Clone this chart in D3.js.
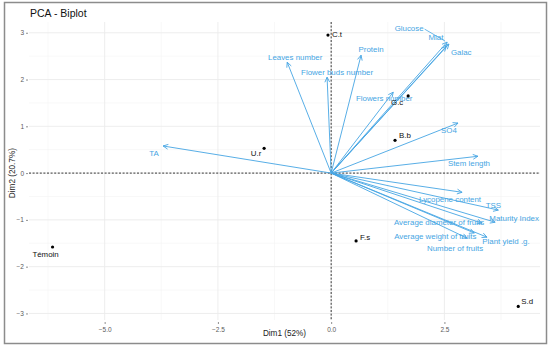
<!DOCTYPE html>
<html><head><meta charset="utf-8">
<script src="https://cdn.jsdelivr.net/npm/d3@7"></script>
<style>body{margin:0;background:#fff}svg{display:block;font-family:"Liberation Sans",Arial,sans-serif}</style>
</head><body><svg id="c" width="550" height="349"></svg>
<script>
// ---- data ----
const indNames = ["C.t","G.c","B.b","U.r","F.s","S.d","Témoin"];
const indDim1  = [-0.07, 1.70, 1.41, -1.48, 0.55, 4.13, -6.15];
const indDim2  = [2.95, 1.65, 0.70, 0.53, -1.45, -2.85, -1.58];

const varNames = ["TA","Leaves number","Flower buds number","Protein","Flowers number","Glucose","Mlat","Galac","SO4","Stem length","Lycopene content","TSS","Maturity Index","Average diameter of fruits","Plant yield .g.","Average weight of fruits","Number of fruits"];
const varDim1 = [-3.71, -0.97, -0.09, 0.66, 1.37, 2.56, 2.60, 2.54, 2.80, 3.24, 2.89, 3.69, 3.62, 3.33, 3.44, 3.16, 3.00];
const varDim2 = [0.58, 2.37, 2.05, 2.52, 1.73, 2.80, 2.76, 2.71, 1.07, 0.36, -0.41, -0.79, -1.05, -1.07, -1.37, -1.28, -1.39];

const xTicks = [-5.0, -2.5, 0.0, 2.5];
const yTicks = [-3, -2, -1, 0, 1, 2, 3];
const title = "PCA - Biplot";
const xTitle = "Dim1 (52%)";
const yTitle = "Dim2 (20.7%)";

// ---- layout (label nudges in px, repel-like) ----
const indNudge = {"C.t":[9,-1],"G.c":[-11,6],"B.b":[10,-5],"U.r":[-8,5],"F.s":[9,-4],"S.d":[9,-5],"Témoin":[-7,7]};
const varNudge = {"TA":[-9,7],"Leaves number":[8,-5],"Flower buds number":[10,-5],"Protein":[10,-6],"Flowers number":[-9,6],
  "Glucose":[-38,-14],"Mlat":[-13,-7],"Galac":[15,6],"SO4":[-9,7],"Stem length":[-9,7],"Lycopene content":[-12,7],
  "TSS":[-5,-5],"Maturity Index":[19,-4],"Average diameter of fruits":[-43,-1],"Plant yield .g.":[19,4],
  "Average weight of fruits":[-39,3],"Number of fruits":[-12,10]};
const segLabels = {"Glucose":true};

const svg = d3.select("#c");
const L=29, R=540, T=22, B=320;
const x = d3.scaleLinear().domain([-6.67, 4.61]).range([L, R]);
const y = d3.scaleLinear().domain([-3.14, 3.23]).range([B, T]);
const varCol = "#45a5e3";

// outer border
svg.append("rect").attr("x",4.5).attr("y",2.5).attr("width",542).attr("height",341)
  .attr("fill","none").attr("stroke","#8c8c8c").attr("stroke-width",1.5);

// grid
const g = svg.append("g");
const xMinor = xTicks.map(t=>t-1.25).concat([xTicks[xTicks.length-1]+1.25]);
const yMinor = yTicks.slice(1).map(t=>t-0.5);
g.selectAll(".xm").data(xMinor).join("line").attr("x1",d=>x(d)).attr("x2",d=>x(d)).attr("y1",T).attr("y2",B).attr("stroke","#f3f3f3").attr("stroke-width",0.6);
g.selectAll(".ym").data(yMinor).join("line").attr("y1",d=>y(d)).attr("y2",d=>y(d)).attr("x1",L).attr("x2",R).attr("stroke","#f3f3f3").attr("stroke-width",0.6);
g.selectAll(".xg").data(xTicks).join("line").attr("x1",d=>x(d)).attr("x2",d=>x(d)).attr("y1",T).attr("y2",B).attr("stroke","#ebebeb").attr("stroke-width",0.9);
g.selectAll(".yg").data(yTicks).join("line").attr("y1",d=>y(d)).attr("y2",d=>y(d)).attr("x1",L).attr("x2",R).attr("stroke","#ebebeb").attr("stroke-width",0.9);

// axes
const xAxis = d3.axisBottom(x).tickValues(xTicks).tickFormat(d3.format(".1f")).tickSize(2).tickPadding(3);
const yAxis = d3.axisLeft(y).tickValues(yTicks).tickFormat(d3.format("d")).tickSize(2).tickPadding(2);
const gx = svg.append("g").attr("transform",`translate(0,${B+2})`).call(xAxis);
const gy = svg.append("g").attr("transform",`translate(${L-1},0)`).call(yAxis);
[gx,gy].forEach(a=>{a.select(".domain").remove();a.selectAll("line").attr("stroke","#444").attr("stroke-width",0.6);
  a.selectAll("text").attr("fill","#5a5a5a").style("font-size","6.5px");});

// zero lines
svg.append("line").attr("x1",L).attr("x2",R).attr("y1",y(0)).attr("y2",y(0)).attr("stroke","#222").attr("stroke-width",0.9).attr("stroke-dasharray","2,1.6");
svg.append("line").attr("y1",T).attr("y2",B).attr("x1",x(0)).attr("x2",x(0)).attr("stroke","#222").attr("stroke-width",0.9).attr("stroke-dasharray","2,1.6");

// variable arrows
const vars = varNames.map((n,i)=>({n, a:varDim1[i], b:varDim2[i]}));
const va = svg.append("g").attr("stroke",varCol).attr("stroke-width",0.9).attr("fill","none");
vars.forEach(v=>{
  const x0=x(0), y0=y(0), x1=x(v.a), y1=y(v.b);
  va.append("line").attr("x1",x0).attr("y1",y0).attr("x2",x1).attr("y2",y1);
  const ang=Math.atan2(y1-y0,x1-x0), len=5.5, spread=0.45;
  const p=d3.path();
  p.moveTo(x1-len*Math.cos(ang-spread), y1-len*Math.sin(ang-spread));
  p.lineTo(x1,y1);
  p.lineTo(x1-len*Math.cos(ang+spread), y1-len*Math.sin(ang+spread));
  va.append("path").attr("d",p.toString());
});
// variable labels
vars.forEach(v=>{
  const nd=varNudge[v.n]||[0,0];
  const lx=x(v.a)+nd[0], ly=y(v.b)+nd[1];
  const t=svg.append("text").attr("x",lx).attr("y",ly).attr("dy","0.35em").attr("text-anchor","middle")
    .attr("fill",varCol).style("font-size","7.9px").text(v.n);
  if(segLabels[v.n]){
    const w=t.node().getComputedTextLength();
    svg.append("line").attr("x1",lx+w/2+1).attr("y1",ly+1).attr("x2",x(v.a)-2).attr("y2",y(v.b)-1)
      .attr("stroke",varCol).attr("stroke-width",0.8);
  }
});

// individuals
const inds = indNames.map((n,i)=>({n,a:indDim1[i],b:indDim2[i]}));
svg.append("g").selectAll("circle").data(inds).join("circle").attr("cx",d=>x(d.a)).attr("cy",d=>y(d.b)).attr("r",1.6).attr("fill","#000");
svg.append("g").selectAll("text").data(inds).join("text")
  .attr("x",d=>x(d.a)+indNudge[d.n][0]).attr("y",d=>y(d.b)+indNudge[d.n][1]).attr("dy","0.35em")
  .attr("text-anchor","middle").attr("fill","#111").style("font-size","7.9px").text(d=>d.n);

// titles
svg.append("text").attr("x",L+1).attr("y",17).attr("fill","#111").style("font-size","10.5px").text(title);
svg.append("text").attr("x",(L+R)/2).attr("y",336).attr("text-anchor","middle").attr("fill","#222").style("font-size","8.2px").text(xTitle);
svg.append("text").attr("transform",`translate(15,${y(0)}) rotate(-90)`).attr("text-anchor","middle").attr("fill","#222").style("font-size","8.2px").text(yTitle);
</script></body></html>
